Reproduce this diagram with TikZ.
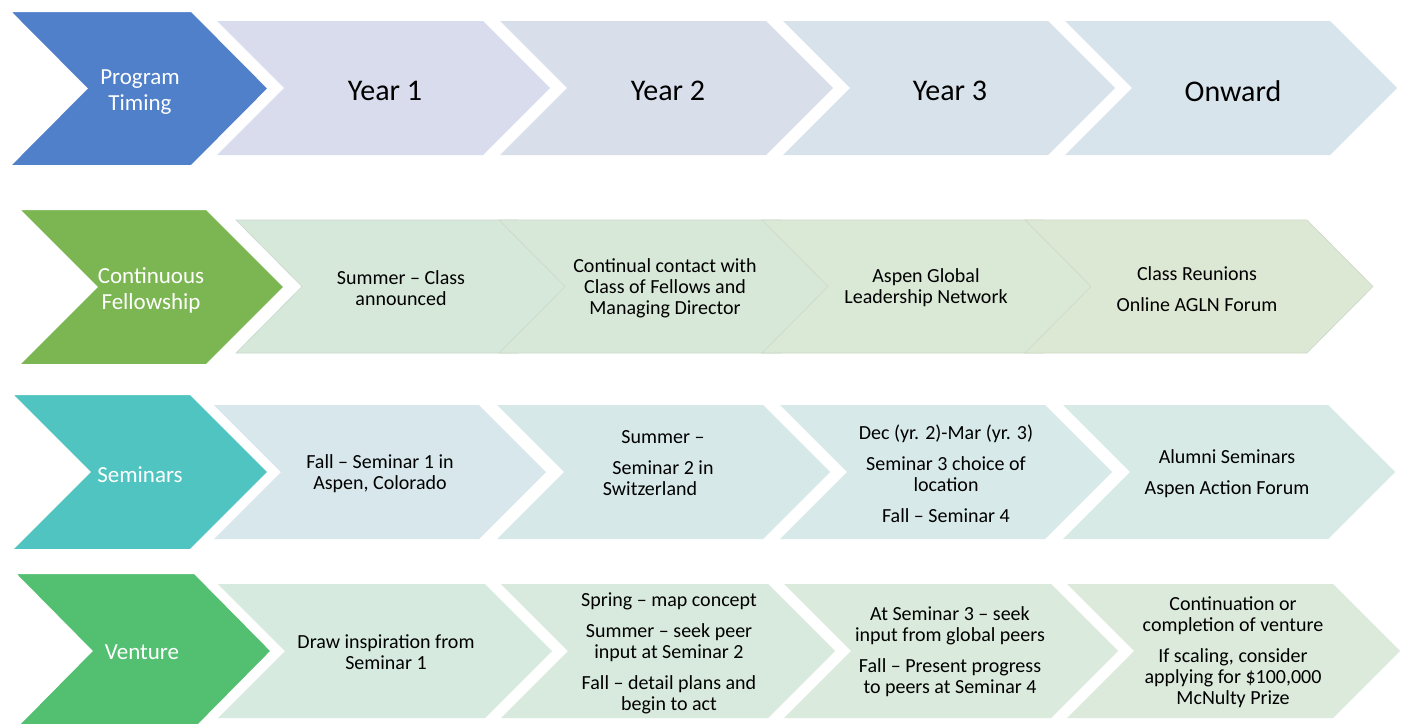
\documentclass[tikz,border=0pt]{standalone}
\usepackage{fontspec}
\setmainfont{Carlito}

\definecolor{timingblue}{HTML}{5080CA}
\definecolor{fellowgreen}{HTML}{7CB652}
\definecolor{seminarteal}{HTML}{50C4C0}
\definecolor{venturegreen}{HTML}{53BF71}
\definecolor{timingA}{HTML}{D9DCEC}
\definecolor{timingB}{HTML}{D8DFEB}
\definecolor{timingC}{HTML}{D8E2EB}
\definecolor{timingD}{HTML}{D8E4EC}
\definecolor{fellowA}{HTML}{D6E8DA}
\definecolor{fellowB}{HTML}{D8E8D8}
\definecolor{fellowC}{HTML}{DAE8D6}
\definecolor{fellowD}{HTML}{DCE8D4}
\definecolor{seminarA}{HTML}{D7E7EB}
\definecolor{seminarB}{HTML}{D7E8E9}
\definecolor{seminarC}{HTML}{D7E9E8}
\definecolor{seminarD}{HTML}{D7EAE6}
\definecolor{ventureA}{HTML}{D6EAE0}
\definecolor{ventureB}{HTML}{D8EADE}
\definecolor{ventureC}{HTML}{DAEADC}
\definecolor{ventureD}{HTML}{DCEADB}

% chevron: style, left x, body right x, top y, bottom y, point depth
\newcommand{\chev}[6]{%
  \path[#1] (#2,#4) -- (#3,#4) -- ({#3+#6},{(#4+#5)/2}) -- (#3,#5)
    -- (#2,#5) -- ({#2+#6},{(#4+#5)/2}) -- cycle;}

\begin{document}
\begin{tikzpicture}[x=1pt,y=-1pt,
    head/.style={draw=white,line width=4pt,fill=#1},
    band/.style={fill=#1},
    lap/.style={fill=#1,draw=#1!85!gray,line width=0.6pt},
    headtxt/.style={text=white,align=center,font=\fontsize{23}{26}\selectfont},
    yeartxt/.style={text=black,font=\fontsize{30}{36}\selectfont},
    bodytxt/.style={text=black,align=center,font=\fontsize{20}{21}\selectfont}]
  \useasboundingbox (0,0) rectangle (1403,723);
  \clip (0,0) rectangle (1403,723);
  \fill[white] (0,0) rectangle (1403,723);

  % Program timing
  \chev{band=timingA}{217}{483}{21}{155}{67}
  \chev{band=timingB}{500}{766}{21}{155}{67}
  \chev{band=timingC}{783}{1048}{21}{155}{67}
  \chev{band=timingD}{1065}{1330}{21}{155}{67}
  \chev{head=timingblue}{7}{192}{10}{167}{78}
  \node[headtxt] (timing) at (140,92) {Program\\Timing};
  \node[yeartxt] (year1) at (385,91) {Year 1};
  \node[yeartxt] (year2) at (668,91) {Year 2};
  \node[yeartxt] (year3) at (950,91) {Year 3};
  \node[yeartxt] (onward) at (1233,91) {Onward};

  % Continuous fellowship
  \chev{lap=fellowA}{236}{518}{220}{353}{66}
  \chev{lap=fellowB}{499}{781}{220}{353}{66}
  \chev{lap=fellowC}{762}{1044}{220}{353}{66}
  \chev{lap=fellowD}{1025}{1307}{220}{353}{66}
  \chev{head=fellowgreen}{16}{207}{208}{366}{79}
  \node[headtxt] (fellow) at (151,290) {Continuous\\Fellowship};
  \node[bodytxt] (fellow1) at (401,288) {Summer -- Class\\announced};
  \node[bodytxt] (fellow2) at (665,288) {Continual contact with\\Class of Fellows and\\Managing Director};
  \node[bodytxt] (fellow3) at (926,288) {Aspen Global\\Leadership Network};
  \node[bodytxt] (fellow4) at (1197,289) {Class Reunions\\[10pt]Online AGLN Forum};

  % Seminars
  \chev{band=seminarA}{214}{479}{405}{539}{67}
  \chev{band=seminarB}{497}{763}{405}{539}{67}
  \chev{band=seminarC}{780}{1045}{405}{539}{67}
  \chev{band=seminarD}{1063}{1328}{405}{539}{67}
  \chev{head=seminarteal}{9}{191}{393}{551}{79}
  \node[headtxt] (seminars) at (140,475) {Seminars};
  \node[bodytxt] (seminar1) at (380,474) {Fall -- Seminar 1 in\\Aspen, Colorado};
  \node[bodytxt] (seminar2) at (663,463) {Summer --\\[10pt]Seminar 2 in\\Switzerland\hspace*{26pt}};
  \node[bodytxt] (seminar3) at (946,474) {Dec (yr. 2)-Mar (yr. 3)\\[10pt]Seminar 3 choice of\\location\\[10pt]Fall -- Seminar 4};
  \node[bodytxt] (seminar4) at (1227,474) {Alumni Seminars\\[10pt]Aspen Action Forum};

  % Venture
  \chev{band=ventureA}{218}{485}{584}{718}{67}
  \chev{band=ventureB}{501}{768}{584}{718}{67}
  \chev{band=ventureC}{784}{1051}{584}{718}{67}
  \chev{band=ventureD}{1067}{1333}{584}{718}{67}
  \chev{head=venturegreen}{12}{195}{572}{730}{78}
  \node[headtxt] (venture) at (142,652) {Venture};
  \node[bodytxt] (venture1) at (386,652) {Draw inspiration from\\Seminar 1};
  \node[bodytxt] (venture2) at (669,653) {Spring -- map concept\\[10pt]Summer -- seek peer\\input at Seminar 2\\[10pt]Fall -- detail plans and\\begin to act};
  \node[bodytxt] (venture3) at (950,652) {At Seminar 3 -- seek\\input from global peers\\[10pt]Fall -- Present progress\\to peers at Seminar 4};
  \node[bodytxt] (venture4) at (1233,652) {Continuation or\\completion of venture\\[10pt]If scaling, consider\\applying for \$100,000\\McNulty Prize};
\end{tikzpicture}
\end{document}
